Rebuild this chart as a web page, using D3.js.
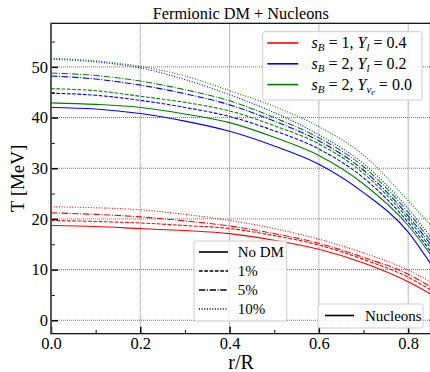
<!DOCTYPE html>
<html>
<head>
<meta charset="utf-8">
<script src="https://cdn.jsdelivr.net/npm/d3@7"></script>
<style>
  body { margin: 0; background: #fff; }
  svg text { font-family: 'Liberation Serif', 'DejaVu Serif', serif; fill: #000; }
</style>
</head>
<body>
<div id="chart"></div>
<script>
var radii = [0, 0.1, 0.2, 0.3, 0.4, 0.5, 0.6, 0.7, 0.8, 0.85]

// s_B = 1, Y_l = 0.4 (red)
var redNoDM = [18.7, 18.5, 18.1, 17.7, 17.1, 15.8, 14.0, 11.3, 7.6, 5.2]
var red1 = [19.7, 19.5, 19.2, 18.7, 18.1, 16.7, 14.85, 12.0, 8.5, 6.0]
var red5 = [21.2, 20.9, 20.4, 19.6, 18.6, 17.1, 15.2, 12.4, 9.1, 6.6]
var red10 = [22.4, 22.2, 21.8, 20.9, 19.7, 18.1, 16.0, 13.3, 9.9, 7.6]

// s_B = 2, Y_l = 0.2 (blue)
var blueNoDM = [42.0, 41.7, 40.8, 39.3, 37.3, 34.4, 30.8, 25.2, 17.4, 11.2]
var blue1 = [44.8, 44.4, 43.4, 42.0, 40.2, 37.4, 33.8, 28.1, 19.3, 13.6]
var blue5 = [48.2, 47.6, 46.4, 44.7, 42.5, 39.3, 35.4, 29.6, 20.6, 15.0]
var blue10 = [51.5, 51.0, 49.8, 47.5, 44.5, 41.0, 36.6, 30.9, 22.0, 16.5]

// s_B = 2, Y_nu_e = 0.0 (green)
var greenNoDM = [42.9, 42.6, 42.0, 40.7, 39.0, 36.1, 32.5, 26.9, 18.7, 13.0]
var green1 = [45.7, 45.3, 44.2, 43.0, 41.3, 38.4, 34.8, 29.0, 20.0, 14.3]
var green5 = [48.8, 48.3, 47.2, 45.5, 43.3, 40.0, 36.0, 30.3, 21.3, 15.7]
var green10 = [51.7, 51.2, 50.1, 48.2, 45.3, 42.2, 38.2, 32.6, 23.6, 18.8]

var xTicks = [0, 0.2, 0.4, 0.6, 0.8]
var xMinor = [0.1, 0.3, 0.5, 0.7]
var yTicks = [0, 10, 20, 30, 40, 50]
var yMinor = [5, 15, 25, 35, 45, 55]

var dmLabels = ['No DM', '1%', '5%', '10%']
var dashes = ['none', '3.7,1.6', '6.4,1.6,1,1.6', '1,1.65']

var serif = "'Liberation Serif', 'DejaVu Serif', serif"

var width = 430
var height = 372
var plotLeft = 51
var plotRight = 430.5
var plotTop = 23.3
var plotBottom = 333.7

var svg = d3
  .select('#chart')
  .append('svg')
  .attr('width', width)
  .attr('height', height)

var xScale = d3.scaleLinear().domain([0, 0.85]).range([plotLeft, plotRight])
var yScale = d3.scaleLinear().domain([-2.65, 58.6]).range([plotBottom, plotTop])

svg
  .append('defs')
  .append('clipPath')
  .attr('id', 'plot-clip')
  .append('rect')
  .attr('x', plotLeft)
  .attr('y', plotTop)
  .attr('width', plotRight - plotLeft)
  .attr('height', plotBottom - plotTop)

// grid
svg
  .selectAll('.vgrid')
  .data(xTicks.slice(1))
  .enter()
  .append('line')
  .attr('class', 'vgrid')
  .attr('x1', d => xScale(d))
  .attr('x2', d => xScale(d))
  .attr('y1', plotTop)
  .attr('y2', plotBottom)
  .attr('stroke', '#777')
  .attr('stroke-width', 1)
  .attr('stroke-dasharray', '1,1')

svg
  .selectAll('.hgrid')
  .data(yTicks)
  .enter()
  .append('line')
  .attr('class', 'hgrid')
  .attr('x1', plotLeft)
  .attr('x2', plotRight)
  .attr('y1', d => yScale(d))
  .attr('y2', d => yScale(d))
  .attr('stroke', '#777')
  .attr('stroke-width', 1)
  .attr('stroke-dasharray', '1,1')

var line = d3
  .line()
  .x((d, i) => xScale(radii[i]))
  .y(d => yScale(d))
  .curve(d3.curveMonotoneX)

var series = [
  { values: redNoDM, color: '#ff0000', style: 0 },
  { values: red1, color: '#ff0000', style: 1 },
  { values: red5, color: '#ff0000', style: 2 },
  { values: red10, color: '#ff0000', style: 3 },
  { values: blueNoDM, color: '#0000ff', style: 0 },
  { values: blue1, color: '#0000ff', style: 1 },
  { values: blue5, color: '#0000ff', style: 2 },
  { values: blue10, color: '#0000ff', style: 3 },
  { values: greenNoDM, color: '#008000', style: 0 },
  { values: green1, color: '#008000', style: 1 },
  { values: green5, color: '#008000', style: 2 },
  { values: green10, color: '#008000', style: 3 }
]

svg
  .append('g')
  .attr('clip-path', 'url(#plot-clip)')
  .selectAll('.curve')
  .data(series)
  .enter()
  .append('path')
  .attr('class', 'curve')
  .attr('d', d => line(d.values))
  .attr('fill', 'none')
  .attr('stroke', d => d.color)
  .attr('stroke-width', 1.1)
  .attr('stroke-dasharray', d => dashes[d.style])

// axes: ticks point inward, spines drawn separately
var xAxis = svg
  .append('g')
  .attr('transform', 'translate(0,' + plotBottom + ')')
  .call(
    d3
      .axisBottom(xScale)
      .tickValues(xTicks)
      .tickSize(-7)
      .tickPadding(3.5)
      .tickFormat(d3.format('.1f'))
  )
xAxis.attr('font-family', serif)
xAxis.select('.domain').remove()
xAxis.selectAll('.tick line').attr('stroke-width', 1.5)
xAxis.selectAll('text').attr('font-size', 16.5)

svg
  .append('g')
  .attr('transform', 'translate(0,' + plotBottom + ')')
  .call(d3.axisBottom(xScale).tickValues(xMinor).tickSize(-3.7).tickFormat(''))
  .call(g => g.select('.domain').remove())
  .selectAll('.tick line')
  .attr('stroke-width', 1)

var yAxis = svg
  .append('g')
  .attr('transform', 'translate(' + plotLeft + ',0)')
  .call(d3.axisLeft(yScale).tickValues(yTicks).tickSize(-7).tickPadding(3))
yAxis.attr('font-family', serif)
yAxis.select('.domain').remove()
yAxis.selectAll('.tick line').attr('stroke-width', 1.5)
yAxis.selectAll('text').attr('font-size', 16.5)

svg
  .append('g')
  .attr('transform', 'translate(' + plotLeft + ',0)')
  .call(d3.axisLeft(yScale).tickValues(yMinor).tickSize(-3.7).tickFormat(''))
  .call(g => g.select('.domain').remove())
  .selectAll('.tick line')
  .attr('stroke-width', 1)

// spines
svg
  .append('rect')
  .attr('x', plotLeft)
  .attr('y', plotTop)
  .attr('width', plotRight - plotLeft)
  .attr('height', plotBottom - plotTop)
  .attr('fill', 'none')
  .attr('stroke', '#000')
  .attr('stroke-width', 1.2)

svg
  .append('line')
  .attr('x1', plotLeft)
  .attr('x2', plotLeft)
  .attr('y1', plotTop)
  .attr('y2', plotBottom)
  .attr('stroke', '#555')
  .attr('stroke-width', 1.6)

// labels
svg
  .append('text')
  .attr('x', (plotLeft + plotRight) / 2)
  .attr('y', 19)
  .attr('text-anchor', 'middle')
  .attr('font-size', 16.3)
  .text('Fermionic DM + Nucleons')

svg
  .append('text')
  .attr('x', 241)
  .attr('y', 369)
  .attr('text-anchor', 'middle')
  .attr('font-size', 20)
  .text('r/R')

svg
  .append('text')
  .attr('transform', 'translate(24,' + (plotTop + plotBottom) / 2 + ') rotate(-90)')
  .attr('text-anchor', 'middle')
  .attr('font-size', 19)
  .text('T [MeV]')

// legend boxes
function legendBox(x, y, w, h) {
  svg
    .append('rect')
    .attr('x', x)
    .attr('y', y)
    .attr('width', w)
    .attr('height', h)
    .attr('rx', 2)
    .attr('fill', '#fff')
    .attr('fill-opacity', 0.85)
    .attr('stroke', '#ccc')
    .attr('stroke-width', 1)
}

var models = [
  { color: '#ff0000', sb: '1', y: 'l', ysub: null, val: '0.4' },
  { color: '#0000ff', sb: '2', y: 'l', ysub: null, val: '0.2' },
  { color: '#008000', sb: '2', y: 'ν', ysub: 'e', val: '0.0' }
]

legendBox(262.7, 31.7, 159.3, 68.3)

models.forEach((m, i) => {
  var yy = 43 + i * 20.8
  svg
    .append('line')
    .attr('x1', 267.3)
    .attr('x2', 298.3)
    .attr('y1', yy)
    .attr('y2', yy)
    .attr('stroke', m.color)
    .attr('stroke-width', 1.6)

  var t = svg
    .append('text')
    .attr('x', 311.5)
    .attr('y', yy + 5)
    .attr('font-size', 16)
  t.append('tspan').attr('font-style', 'italic').text('s')
  t.append('tspan').attr('font-style', 'italic').attr('font-size', 11).attr('dy', 3).text('B')
  t.append('tspan').attr('dy', -3).text(' = ' + m.sb + ', ')
  t.append('tspan').attr('font-style', 'italic').text('Y')
  t.append('tspan').attr('font-style', 'italic').attr('font-size', 11).attr('dy', 3).text(m.y)
  if (m.ysub) {
    t.append('tspan').attr('font-style', 'italic').attr('font-size', 8).attr('dy', 2).text(m.ysub)
    t.append('tspan').attr('dy', -5).text(' = ' + m.val)
  } else {
    t.append('tspan').attr('dy', -3).text(' = ' + m.val)
  }
})

// legend: DM fractions
legendBox(194, 241, 92.7, 80)

dmLabels.forEach((label, i) => {
  var yy = 252 + i * 19
  svg
    .append('line')
    .attr('x1', 199)
    .attr('x2', 228)
    .attr('y1', yy)
    .attr('y2', yy)
    .attr('stroke', '#000')
    .attr('stroke-width', 1.6)
    .attr('stroke-dasharray', dashes[i])
  svg
    .append('text')
    .attr('x', 237.7)
    .attr('y', yy + 5)
    .attr('font-size', 15)
    .text(label)
})

// legend: nucleons
legendBox(318, 304, 105, 24)

svg
  .append('line')
  .attr('x1', 325)
  .attr('x2', 354)
  .attr('y1', 315.5)
  .attr('y2', 315.5)
  .attr('stroke', '#000')
  .attr('stroke-width', 1.6)

svg
  .append('text')
  .attr('x', 365)
  .attr('y', 320.5)
  .attr('font-size', 15)
  .text('Nucleons')
</script>
</body>
</html>
